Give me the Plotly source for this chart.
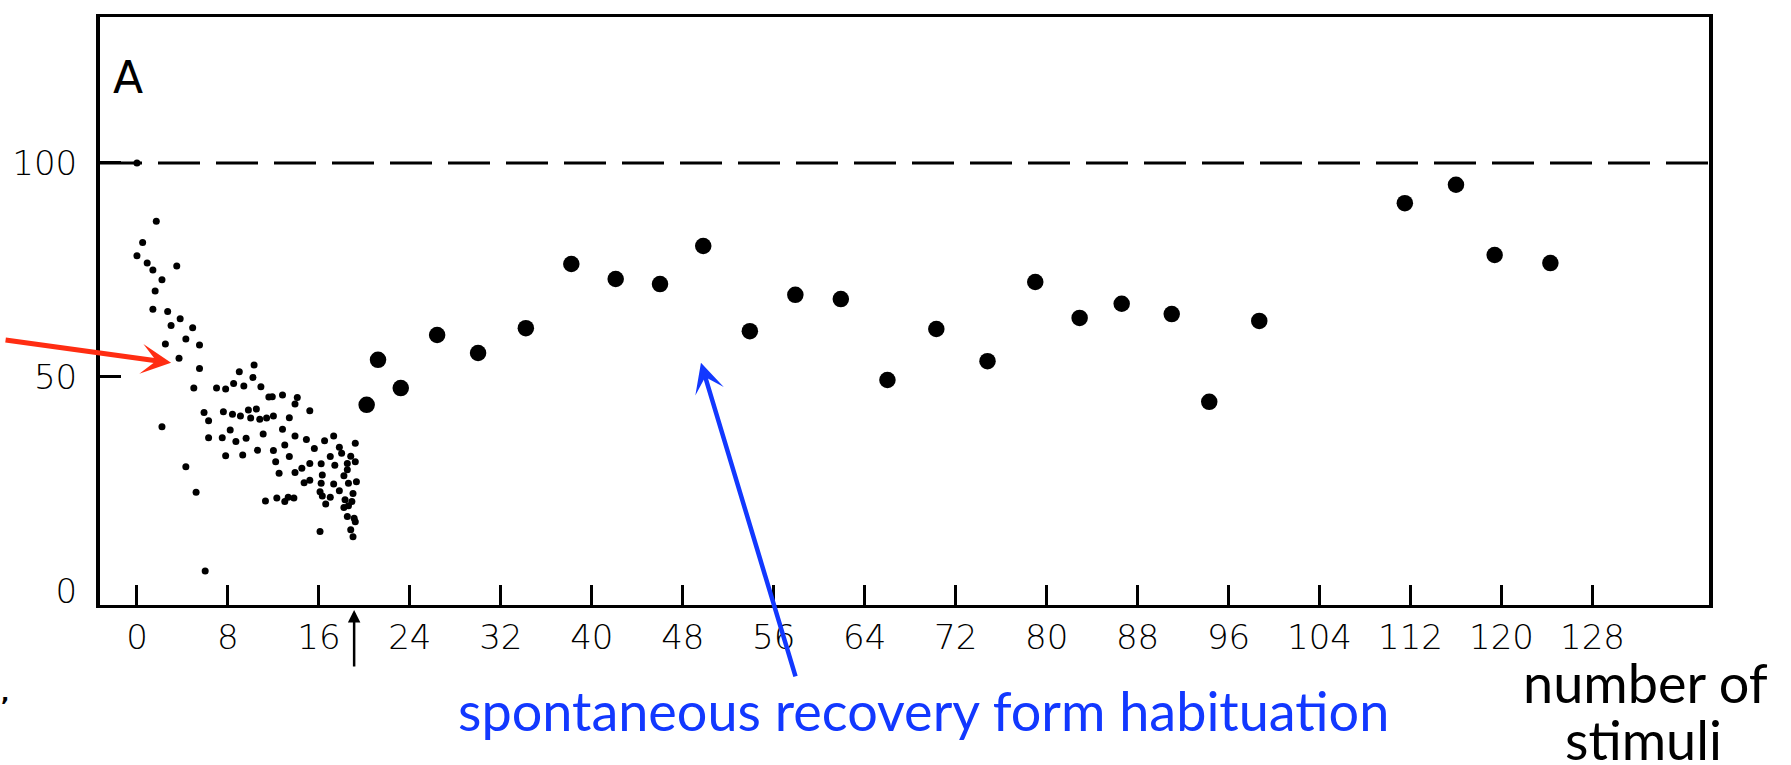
import plotly.graph_objects as go

# Habituation session: response (% of initial) for each stimulus
hab_x = [0.0, 1.7, 0.5, 0.0, 0.9, 1.4, 3.5, 2.2, 1.6, 1.4, 2.7, 3.8, 3.0, 4.9, 4.3,
         2.5, 5.5, 3.7, 5.5, 9.0, 5.0, 7.0, 7.8, 8.5, 9.4, 5.9, 6.3, 7.6, 8.4, 9.1,
         2.2, 8.2, 6.3, 7.5, 8.7, 7.8, 9.3, 4.3, 5.2, 6.0, 10.3, 10.2, 10.9, 11.6, 11.9,
         12.8, 14.1, 13.9, 15.2, 9.8, 10.5, 10.0, 10.8, 11.4, 12.0, 13.4, 12.8, 11.1, 9.6,
         13.9, 14.9, 13.0, 12.0, 10.6, 19.2, 16.5, 17.3, 15.6, 17.8, 12.2, 13.4, 13.9,
         14.5, 15.2, 12.5, 16.2, 17.0, 18.0, 18.8, 17.4, 18.5, 19.2, 18.5, 16.3, 14.7,
         15.2, 16.2, 17.3, 18.2, 18.6, 19.3, 11.3, 12.3, 13.0, 13.3, 13.8, 16.1, 16.3,
         17.0, 16.6, 17.8, 19.0, 18.3, 18.9, 18.2, 18.6, 18.5, 19.1, 19.2, 18.8, 19.0, 16.1]
hab_y = [100.0, 86.4, 81.4, 78.3, 76.6, 75.0, 75.9, 72.7, 70.1, 65.8, 65.3, 63.6, 62.0, 61.5, 58.9,
         57.7, 57.5, 54.4, 52.0, 51.2, 47.4, 47.4, 47.2, 48.5, 47.9, 41.7, 39.8, 41.9, 41.3, 40.9,
         38.4, 37.6, 35.8, 35.8, 34.9, 31.6, 31.8, 29.0, 23.1, 4.7, 52.8, 49.9, 47.7, 45.3, 45.4,
         45.8, 45.2, 43.7, 42.1, 42.3, 42.5, 40.4, 40.1, 40.4, 40.9, 40.5, 37.8, 36.7, 35.7,
         36.2, 35.4, 34.1, 32.8, 32.9, 34.5, 35.1, 36.2, 33.3, 33.6, 30.2, 31.4, 27.7,
         28.7, 29.8, 27.5, 29.7, 31.4, 32.2, 31.5, 29.4, 29.8, 30.2, 28.3, 27.1, 25.3,
         25.9, 25.2, 25.0, 26.9, 25.2, 25.5, 21.0, 21.7, 20.9, 21.9, 21.7, 23.2, 22.2,
         21.9, 20.3, 23.4, 22.8, 21.3, 20.9, 19.5, 19.9, 17.4, 17.0, 16.2, 14.3, 12.7, 13.9]

# Spontaneous recovery: later stimuli after the rest interval
rec_x = [20.2, 21.2, 23.2, 26.4, 30.0, 34.2, 38.2, 42.1, 46.0, 49.8, 53.9, 57.9, 61.9,
         66.0, 70.3, 74.8, 79.0, 82.9, 86.6, 91.0, 94.3, 98.7, 111.5, 116.0, 119.4, 124.3]
rec_y = [43.5, 54.0, 47.4, 59.8, 55.6, 61.4, 76.4, 72.9, 71.7, 80.6, 60.7, 69.2, 68.2,
         49.3, 61.2, 53.7, 72.2, 63.8, 67.1, 64.7, 44.2, 63.1, 90.6, 94.9, 78.5, 76.6]

x_ticks = [0, 8, 16, 24, 32, 40, 48, 56, 64, 72, 80, 88, 96, 104, 112, 120, 128]
y_ticks = [0, 50, 100]
baseline = 100

BLUE = "#1238ff"
RED = "#ff2d12"
label_font = dict(family="DejaVu Sans", size=34, color="black", weight=300)
note_font = "Lato"

fig = go.Figure()
fig.add_trace(go.Scatter(x=hab_x, y=hab_y, mode="markers",
                         marker=dict(size=7, color="black"), showlegend=False))
fig.add_trace(go.Scatter(x=rec_x, y=rec_y, mode="markers",
                         marker=dict(size=16.5, color="black"), showlegend=False))

# 100 % reference level
fig.add_shape(type="line", xref="paper", x0=0, x1=1, yref="y", y0=baseline, y1=baseline,
              line=dict(color="black", width=3, dash="42px,16px"))

fig.update_layout(
    width=1791, height=765,
    margin=dict(l=96, r=82, t=17, b=160),
    paper_bgcolor="white", plot_bgcolor="white",
    xaxis=dict(range=[-3.25, 138.25], tickmode="array", tickvals=x_ticks,
               ticks="inside", ticklen=20, tickwidth=2.5, tickcolor="black",
               showline=True, linewidth=3, linecolor="black", mirror=True,
               showgrid=False, zeroline=False, tickfont=label_font,
               ticklabelstandoff=0),
    yaxis=dict(range=[-3.27, 134.1], tickmode="array", tickvals=y_ticks, ticks="",
               minor=dict(tickmode="array", tickvals=[50, 100], ticks="inside",
                          ticklen=21, tickwidth=3, tickcolor="black", showgrid=False),
               showline=True, linewidth=4, linecolor="black", mirror=True,
               showgrid=False, zeroline=False, tickfont=label_font,
               ticklabelstandoff=12),
)

annotations = [
    dict(x=-0.8, y=119.9, xref="x", yref="y", text="A", showarrow=False,
         font=dict(family="DejaVu Sans", size=44, color="black")),
    # arrow pointing at the habituation decrement
    dict(x=3.0, y=53.3, xref="x", yref="y", text="", showarrow=True,
         ax=-167, ay=-23, arrowcolor=RED, arrowwidth=5, arrowhead=3, arrowsize=1.0,
         standoff=0),
    # arrow pointing at the recovered responses
    dict(x=49.6, y=53.3, xref="x", yref="y", text="", showarrow=True,
         ax=95, ay=315, arrowcolor=BLUE, arrowwidth=4.5, arrowhead=3, arrowsize=1.1,
         standoff=0),
    # marker of the rest interval under the axis
    dict(x=19.1, y=-0.0085, xref="x", yref="paper", text="", showarrow=True,
         ax=0, ay=58, arrowcolor="black", arrowwidth=2.5, arrowhead=2, arrowsize=1,
         standoff=0),
    dict(x=0.5115, y=-0.1786, xref="paper", yref="paper", xanchor="center", yanchor="middle",
         text="spontaneous recovery form habituation", showarrow=False,
         font=dict(family=note_font, size=54, color=BLUE)),
    # axis caption, two lines set close together
    dict(x=0.9603, y=-0.131, xref="paper", yref="paper", xanchor="center", yanchor="middle",
         height=48, valign="middle",
         text="number of", showarrow=False,
         font=dict(family=note_font, size=54, color="black")),
    dict(x=0.9590, y=-0.228, xref="paper", yref="paper", xanchor="center", yanchor="middle",
         height=48, valign="middle",
         text="stimuli", showarrow=False,
         font=dict(family=note_font, size=54, color="black")),
    dict(x=-0.0625, y=-0.151, xref="paper", yref="paper", xanchor="left", yanchor="middle",
         text=",", showarrow=False,
         font=dict(family="DejaVu Sans", size=22, color="black", weight="bold")),
]
fig.update_layout(annotations=annotations)

fig.write_html("out.html")
